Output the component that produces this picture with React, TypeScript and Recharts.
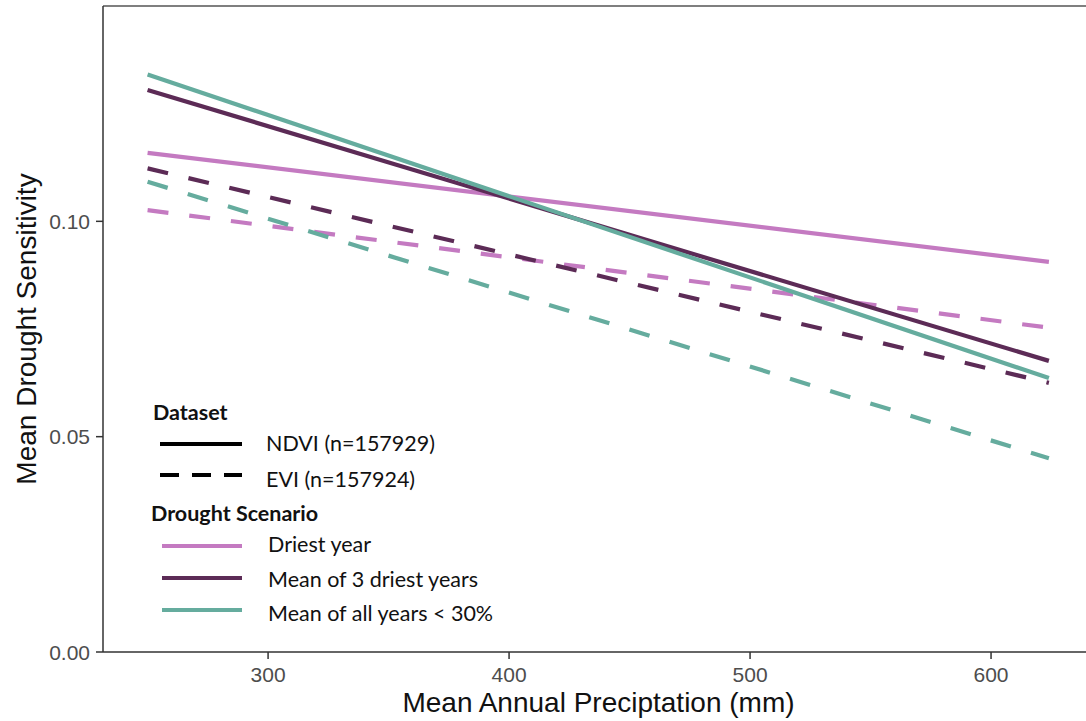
import { CartesianGrid, Label, Legend, Line, LineChart, ReferenceLine, XAxis, YAxis } from "recharts";

const precip = [250, 624];

const ndviDriest = [0.1159, 0.0906];
const ndviMean3 = [0.1305, 0.0676];
const ndviAll = [0.1341, 0.0636];
const eviDriest = [0.1026, 0.0753];
const eviMean3 = [0.1123, 0.0625];
const eviAll = [0.1092, 0.045];

const xTicks = [300, 400, 500, 600];
const yTicks = [0, 0.05, 0.1];

const datasetLabels = ["NDVI (n=157929)", "EVI (n=157924)"];
const scenarioLabels = ["Driest year", "Mean of 3 driest years", "Mean of all years < 30%"];

const PINK = "#c47ac1";
const PURPLE = "#5c2b56";
const TEAL = "#65ac9e";
const DASH = "21 21";

const data = precip.map((p, i) => ({
  precip: p,
  ndviDriest: ndviDriest[i],
  ndviMean3: ndviMean3[i],
  ndviAll: ndviAll[i],
  eviDriest: eviDriest[i],
  eviMean3: eviMean3[i],
  eviAll: eviAll[i],
}));

const SANS = "'Liberation Sans', Arial, sans-serif";
const legendFont = "Lato, 'Noto Sans', sans-serif";

function XTick({ x, y, payload }: any) {
  return (
    <text x={x} y={y + 15} textAnchor="middle" dominantBaseline="central" fill="#4d4d4d" fontSize={21} fontFamily={SANS}>
      {payload.value}
    </text>
  );
}

function YTick({ x, y, payload }: any) {
  return (
    <text x={x - 6} y={y} textAnchor="end" dominantBaseline="central" fill="#4d4d4d" fontSize={21} fontFamily={SANS}>
      {Number(payload.value).toFixed(2)}
    </text>
  );
}

function LegendBox() {
  const scenarioColors = [PINK, PURPLE, TEAL];
  return (
    <svg width={400} height={240} style={{ overflow: "visible" }}>
      <g fontFamily={legendFont} fill="#111">
        <text x={0} y={10} fontSize={21.5} fontWeight="bold" dominantBaseline="central">
          Dataset
        </text>
        <line x1={7} x2={89} y1={42} y2={42} stroke="#000" strokeWidth={4} />
        <text x={113} y={41} fontSize={21.5} dominantBaseline="central">
          {datasetLabels[0]}
        </text>
        <line x1={7} x2={89} y1={73} y2={73} stroke="#000" strokeWidth={4} strokeDasharray="19 13" />
        <text x={113} y={77} fontSize={21.5} dominantBaseline="central">
          {datasetLabels[1]}
        </text>
        <text x={-2} y={111} fontSize={21.5} fontWeight="bold" dominantBaseline="central">
          Drought Scenario
        </text>
        {scenarioLabels.map((label, i) => (
          <g key={label}>
            <line x1={9} x2={89} y1={144 + i * 32} y2={144 + i * 32} stroke={scenarioColors[i]} strokeWidth={4} />
            <text x={115} y={142 + i * 34.5} fontSize={21.5} dominantBaseline="central">
              {label}
            </text>
          </g>
        ))}
      </g>
    </svg>
  );
}

export default function App() {
  return (
    <div style={{ position: "absolute", left: 0, top: 0, width: 1086, height: 721, background: "#fff" }}>
      <LineChart
        width={1086}
        height={721}
        data={data}
        margin={{ top: 6, right: 0, left: 0, bottom: 0 }}
      >
        <CartesianGrid stroke="none" />
        <XAxis
          dataKey="precip"
          type="number"
          domain={[231.5, 639.4]}
          ticks={xTicks}
          allowDataOverflow
          height={69}
          tick={<XTick />}
          tickSize={7}
          tickMargin={0}
          stroke="#333"
          strokeWidth={1.5}
          tickLine={{ stroke: "#333", strokeWidth: 1.5 }}
        >
          <Label
            content={({ viewBox }: any) => (
              <text
                x={viewBox.x + viewBox.width / 2 + 4}
                y={702}
                textAnchor="middle"
                dominantBaseline="central"
                fontSize={28}
                fontFamily={SANS}
                fill="#111"
              >
                Mean Annual Preciptation (mm)
              </text>
            )}
          />
        </XAxis>
        <YAxis
          type="number"
          domain={[0, 0.15]}
          ticks={yTicks}
          allowDataOverflow
          width={103}
          tick={<YTick />}
          tickSize={7}
          tickMargin={0}
          stroke="#333"
          strokeWidth={1.5}
          tickLine={{ stroke: "#333", strokeWidth: 1.5 }}
        >
          <Label
            content={({ viewBox }: any) => {
              const cy = viewBox.y + viewBox.height / 2;
              return (
                <text
                  x={26}
                  y={cy}
                  transform={`rotate(-90, 26, ${cy})`}
                  textAnchor="middle"
                  dominantBaseline="central"
                  fontSize={28}
                  fontFamily={SANS}
                  fill="#111"
                >
                  Mean Drought Sensitivity
                </text>
              );
            }}
          />
        </YAxis>
        <ReferenceLine y={0.15} stroke="#555" strokeWidth={1.5} ifOverflow="extendDomain" />
        <Line type="linear" dataKey="eviDriest" stroke={PINK} strokeWidth={4.2} strokeDasharray={DASH} dot={false} isAnimationActive={false} />
        <Line type="linear" dataKey="eviMean3" stroke={PURPLE} strokeWidth={4.2} strokeDasharray={DASH} dot={false} isAnimationActive={false} />
        <Line type="linear" dataKey="eviAll" stroke={TEAL} strokeWidth={4.2} strokeDasharray={DASH} dot={false} isAnimationActive={false} />
        <Line type="linear" dataKey="ndviDriest" stroke={PINK} strokeWidth={4.2} dot={false} isAnimationActive={false} />
        <Line type="linear" dataKey="ndviMean3" stroke={PURPLE} strokeWidth={4.2} dot={false} isAnimationActive={false} />
        <Line type="linear" dataKey="ndviAll" stroke={TEAL} strokeWidth={4.2} dot={false} isAnimationActive={false} />
        <Legend
          layout="vertical"
          align="center"
          verticalAlign="middle"
          content={() => <LegendBox />}
          wrapperStyle={{ position: "absolute", left: 153, top: 402, width: 400, height: 240 }}
        />
      </LineChart>
    </div>
  );
}
